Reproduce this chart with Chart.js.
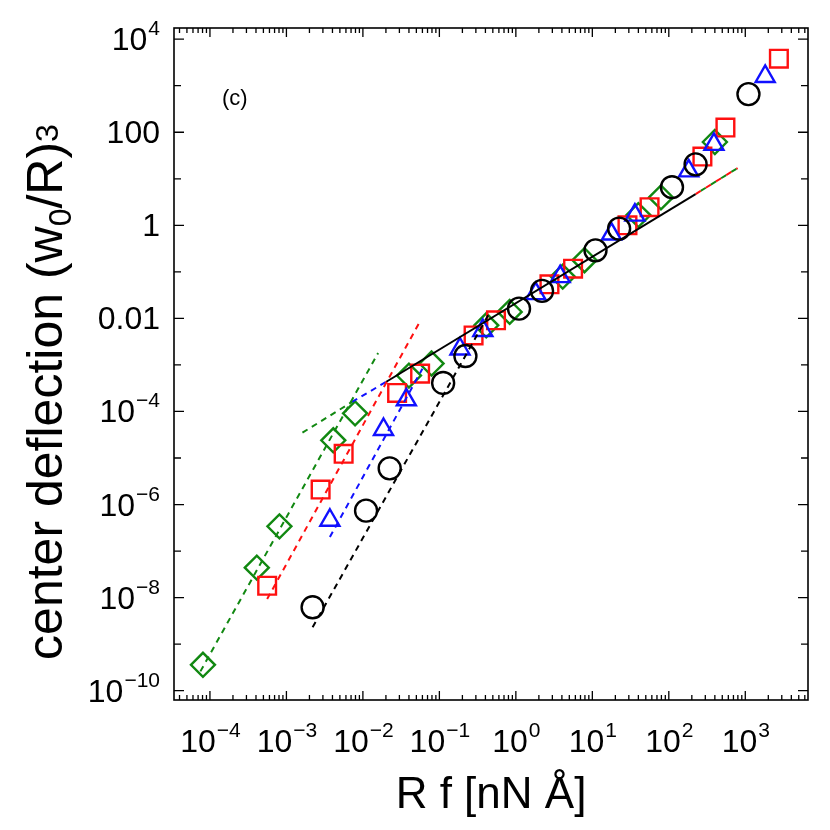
<!DOCTYPE html>
<html><head><meta charset="utf-8">
<script src="https://cdn.jsdelivr.net/npm/chart.js@4.4.0/dist/chart.umd.min.js"></script>
<style>body{margin:0;background:#fff}canvas{display:block}</style></head>
<body><canvas id="c" width="830" height="830"></canvas>
<script>
const greenX=[8.1e-5,4.1e-4,8.1e-4,4.1e-3,7.9e-3,0.040,0.079,0.41,0.83,4.1,7.9,40,79,400];
const greenY=[3.6e-10,4.4e-8,3.4e-7,2.4e-5,9.1e-5,5.9e-4,1.07e-3,7.1e-3,0.0138,0.079,0.178,1.66,3.98,61.7];
const redX=[5.6e-4,2.8e-3,5.6e-3,0.028,0.056,0.28,0.55,2.75,5.6,28.8,56,275,550,2750];
const redY=[1.8e-8,2.1e-6,1.23e-5,2.5e-4,6.5e-4,4.3e-3,9.1e-3,0.054,0.117,1.0,2.45,30,126,3800];
const blueX=[3.7e-3,0.0186,0.037,0.186,0.37,1.82,3.8,17.8,36,182,389,1820];
const blueY=[4.6e-7,4.1e-5,1.78e-4,2.2e-3,5.5e-3,0.034,0.079,0.65,1.66,14.8,55,1580];
const blackX=[2.2e-3,0.011,0.0224,0.112,0.219,1.1,2.2,11,22.4,110,224,1100];
const blackY=[6.2e-9,7.4e-7,6.0e-6,4.1e-4,1.55e-3,0.0162,0.039,0.29,0.85,6.6,20.4,660];
const fitGreenSteep=[[7.5e-5,2.6e-10],[0.0158,1.8e-3]];
const fitRedSteep=[[5.6e-4,9.3e-9],[0.054,7.8e-3]];
const fitBlueSteep=[[3.7e-3,2.0e-7],[0.060,8.3e-4]];
const fitBlackSteep=[[2.2e-3,2.3e-9],[0.45,0.0129]];
const fitGreenFlat=[[1.62e-3,3.5e-5],[7.2e-3,1.6e-4]];
const fitBlueFlat=[[7.2e-3,1.6e-4],[0.02,4.3e-4]];
const fitBlackSolid=[[0.02,4.3e-4],[224,4.7]];
const fitExt=[[224,4.7],[794,17]];
const xDecades=[-4,-3,-2,-1,0,1,2,3];
const yDecades=[4,2,0,-2,-4,-6,-8,-10];
const yPlain={4:null,2:'100',0:'1',[-2]:'0.01'};

const pts=(xs,ys)=>xs.map((x,i)=>({x,y:ys[i]}));
const ln=a=>a.map(p=>({x:p[0],y:p[1]}));
function marker(data,color,style,r){return {data,pointStyle:style,pointRadius:r,pointBorderColor:color,pointBackgroundColor:'rgba(0,0,0,0)',pointBorderWidth:2.4,showLine:false};}
function line(data,color,dash,off){return {data,borderColor:color,borderWidth:2,borderDash:dash,borderDashOffset:off||0,pointRadius:0,showLine:true,fill:false};}

const FONT='"Liberation Sans", Arial, sans-serif';
const deco={id:'deco',afterDraw(ch){
  const c=ch.ctx,a=ch.chartArea,xs=ch.scales.x,ys=ch.scales.y;
  c.save();c.strokeStyle='#000';c.lineWidth=1.6;
  c.strokeRect(a.left,a.top,a.right-a.left,a.bottom-a.top);
  c.lineWidth=1.3;
  for(let k=-5;k<=4;k++){for(let m=1;m<10;m++){const v=m*Math.pow(10,k);if(v<xs.min||v>xs.max)continue;
    const px=xs.getPixelForValue(v),L=m===1?9:5;
    c.beginPath();c.moveTo(px,a.bottom);c.lineTo(px,a.bottom-L);c.moveTo(px,a.top);c.lineTo(px,a.top+L);c.stroke();}}
  for(let k=-11;k<=5;k++){const v=Math.pow(10,k);if(v<ys.min||v>ys.max)continue;
    const py=ys.getPixelForValue(v),L=k%2===0?10:7;
    c.beginPath();c.moveTo(a.left,py);c.lineTo(a.left+L,py);c.moveTo(a.right,py);c.lineTo(a.right-L,py);c.stroke();}
  c.fillStyle='#000';
  const BF='32px '+FONT,SF='21px '+FONT;
  xDecades.forEach(k=>{const px=xs.getPixelForValue(Math.pow(10,k));
    c.font=BF;const w1=c.measureText('10').width;const sup=k<0?'\u2212'+(-k):String(k);
    c.font=SF;const w2=c.measureText(sup).width;const x0=px-(w1+w2)/2;
    c.font=BF;c.textAlign='left';c.textBaseline='alphabetic';c.fillText('10',x0,752);
    c.font=SF;c.fillText(sup,x0+w1+1,737);});
  yDecades.forEach(k=>{const py=ys.getPixelForValue(Math.pow(10,k));const right=160;
    c.textAlign='right';c.textBaseline='alphabetic';
    if(yPlain[k]){c.font=BF;c.fillText(yPlain[k],right,py+11);}
    else{const sup=k<0?'\u2212'+(-k):String(k);c.font=SF;const w2=c.measureText(sup).width;
      c.fillText(sup,right,py-4);c.font=BF;c.fillText('10',right-w2-1,py+11);}});
  c.textAlign='center';c.font='44px '+FONT;c.fillText('R f [nN Å]',(a.left+a.right)/2,808);
  c.save();c.translate(62,392);c.rotate(-Math.PI/2);
  const TF='50px '+FONT,TS='32px '+FONT;
  const t1='center deflection (w',t2='/R)';c.font=TF;
  const w1=c.measureText(t1).width,w3=c.measureText(t2).width;c.font=TS;const ws=c.measureText('0').width,wt=c.measureText('3').width;
  let x=-(w1+ws+w3+wt)/2;c.textAlign='left';c.font=TF;c.fillText(t1,x,0);x+=w1;
  c.font=TS;c.fillText('0',x,9);x+=ws;c.font=TF;c.fillText(t2,x,0);x+=w3;c.font=TS;c.fillText('3',x,-4);
  c.restore();
  c.font='22px '+FONT;c.textAlign='left';c.fillText('(c)',222,105);
  c.restore();}};

new Chart(document.getElementById('c'),{type:'scatter',
 data:{datasets:[
  line(ln(fitGreenSteep),'#118811',[6,5]),line(ln(fitRedSteep),'#ff1010',[6,5]),
  line(ln(fitBlueSteep),'#1010ff',[6,5]),line(ln(fitBlackSteep),'#000',[6,5]),
  line(ln(fitGreenFlat),'#118811',[6,5]),line(ln(fitBlueFlat),'#1010ff',[6,5]),
  line(ln(fitBlackSolid),'#000',[]),line(ln(fitExt),'#ff1010',[6,6]),line(ln(fitExt),'#118811',[6,6],6),
  marker(pts(blackX,blackY),'#000','circle',11),
  marker(pts(blueX,blueY),'#1010ff','triangle',11),
  marker(pts(redX,redY),'#ff1010','rect',12.5),
  marker(pts(greenX,greenY),'#118811','rectRot',12)]},
 options:{responsive:false,animation:false,devicePixelRatio:1,
  layout:{padding:{left:174,top:28,right:22,bottom:130}},
  plugins:{legend:{display:false},tooltip:{enabled:false}},
  scales:{x:{type:'logarithmic',display:false,min:Math.pow(10,-4.47),max:Math.pow(10,3.82)},
          y:{type:'logarithmic',display:false,min:Math.pow(10,-10.2),max:Math.pow(10,4.24)}}},
 plugins:[deco]});
</script></body></html>
